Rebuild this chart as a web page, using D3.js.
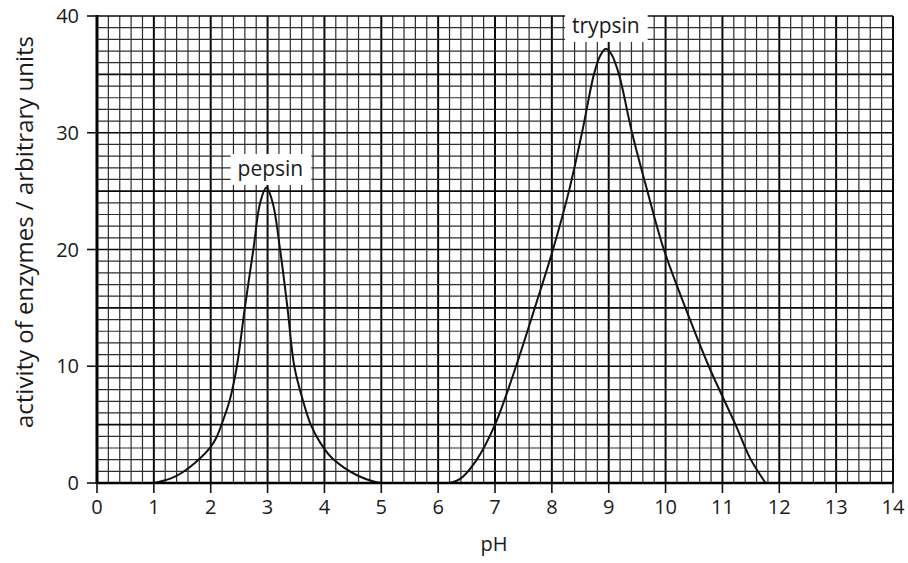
<!DOCTYPE html>
<html>
<head>
<meta charset="utf-8">
<script src="https://cdn.jsdelivr.net/npm/d3@7"></script>
<style>
  html, body { margin: 0; padding: 0; background: #fff; }
  svg { display: block; }
  text { font-family: "Open Sans", "Noto Sans", sans-serif; fill: #1a1a1a; }
</style>
</head>
<body>
<svg id="chart" width="908" height="563"></svg>
<script>
// ---- data ----
const xTicks = [0,1,2,3,4,5,6,7,8,9,10,11,12,13,14];
const yTicks = [0,10,20,30,40];
const xLabel = "pH";
const yLabel = "activity of enzymes / arbitrary units";

const pepsinPH    = [1.0, 1.3, 1.5, 1.81, 2.0, 2.1, 2.22, 2.34, 2.46, 2.6, 2.75, 2.87, 2.98, 3.09, 3.22, 3.35, 3.47, 3.62, 3.76, 3.92, 4.12, 4.35, 4.6, 4.85, 5.0];
const pepsinValue = [0,   0.4, 0.9, 2.1,  3.1, 3.9, 5.4,  7.2,  10,   15,  20,   24,   25.3, 24,   20,   15,   10,   7.1,  5,    3.5,  2.2,  1.3,  0.6, 0.15, 0];

const trypsinPH    = [6.2, 6.4, 6.68, 7.0, 7.37, 7.7, 8.02, 8.3, 8.53, 8.74, 8.85, 8.95, 9.05, 9.18, 9.41, 9.68, 9.97, 10.35, 10.76, 11.23, 11.5, 11.76];
const trypsinValue = [0,   0.4, 2,    5,   10,   15,  20,   25,  30,   35,   36.6, 37.2, 36.7, 35,   30,   25,   20,   15,    10,    5,     2,    0];

const labels = [
  {name: "pepsin",  ph: 3.05, value: 26.3},
  {name: "trypsin", ph: 8.95, value: 38.55}
];

// ---- chart ----
const svg = d3.select("#chart");
const x = d3.scaleLinear().domain([0, 14]).range([97, 893]);
const y = d3.scaleLinear().domain([0, 40]).range([483, 16]);

// grid
const grid = svg.append("g");
const vMinor = d3.range(0, 71).map(i => i / 5);
const hLines = d3.range(0, 41);
const isInt = d => Math.abs(d - Math.round(d)) < 1e-6;
grid.selectAll(".v").data(vMinor).enter().append("line")
  .attr("x1", d => x(d)).attr("x2", d => x(d))
  .attr("y1", y(0)).attr("y2", y(40))
  .attr("stroke", d => isInt(d) ? "#0a0a0a" : "#2e2e2e")
  .attr("stroke-width", d => isInt(d) ? 2 : 1.2);
grid.selectAll(".h").data(hLines).enter().append("line")
  .attr("x1", x(0)).attr("x2", x(14))
  .attr("y1", d => y(d)).attr("y2", d => y(d))
  .attr("stroke", d => d % 5 === 0 ? "#0a0a0a" : "#2e2e2e")
  .attr("stroke-width", d => d % 5 === 0 ? 1.7 : 1.2);

// curves
const line = d3.line().x(d => x(d[0])).y(d => y(d[1])).curve(d3.curveCatmullRom.alpha(0.5));
const pepsin = pepsinPH.map((p, i) => [p, pepsinValue[i]]);
const trypsin = trypsinPH.map((p, i) => [p, trypsinValue[i]]);
[pepsin, trypsin].forEach(data => {
  svg.append("path").datum(data).attr("d", line)
    .attr("fill", "none").attr("stroke", "#111").attr("stroke-width", 2);
});

// axes lines
svg.append("line").attr("x1", x(0)).attr("x2", x(0)).attr("y1", y(40) - 1).attr("y2", y(0) + 1)
  .attr("stroke", "#000").attr("stroke-width", 3);
svg.append("line").attr("x1", x(0)).attr("x2", x(14)).attr("y1", y(0)).attr("y2", y(0))
  .attr("stroke", "#000").attr("stroke-width", 2.4);

// x axis ticks & labels
const xAxis = svg.append("g");
xAxis.selectAll("line").data(xTicks).enter().append("line")
  .attr("x1", d => x(d)).attr("x2", d => x(d))
  .attr("y1", y(0)).attr("y2", y(0) + 10)
  .attr("stroke", "#111").attr("stroke-width", 1.6);
xAxis.selectAll("text").data(xTicks).enter().append("text")
  .attr("x", d => x(d)).attr("y", 514)
  .attr("text-anchor", "middle").attr("font-size", 20)
  .text(d => d);

// y axis ticks & labels
const yAxis = svg.append("g");
yAxis.selectAll("line").data(yTicks).enter().append("line")
  .attr("x1", x(0) - 10).attr("x2", x(0))
  .attr("y1", d => y(d)).attr("y2", d => y(d))
  .attr("stroke", "#111").attr("stroke-width", 1.6);
yAxis.selectAll("text").data(yTicks).enter().append("text")
  .attr("x", 79).attr("y", d => y(d))
  .attr("dy", "0.36em")
  .attr("text-anchor", "end").attr("font-size", 20)
  .text(d => d);

// axis titles
svg.append("text").attr("x", 494).attr("y", 551)
  .attr("text-anchor", "middle").attr("font-size", 20).text(xLabel);
svg.append("text")
  .attr("transform", "translate(33,232) rotate(-90)")
  .attr("text-anchor", "middle").attr("font-size", 24).text(yLabel);

// curve labels with white boxes
labels.forEach(l => {
  const g = svg.append("g");
  const rect = g.append("rect").attr("fill", "#fff");
  const t = g.append("text").attr("x", x(l.ph)).attr("y", y(l.value))
    .attr("text-anchor", "middle").attr("font-size", 21).text(l.name);
  const b = t.node().getBBox();
  const top = b.y < y(40) + 5 ? 0 : b.y;
  rect.attr("x", b.x - 7).attr("y", top)
    .attr("width", b.width + 15).attr("height", b.y + b.height + 3 - top);
});
</script>
</body>
</html>
